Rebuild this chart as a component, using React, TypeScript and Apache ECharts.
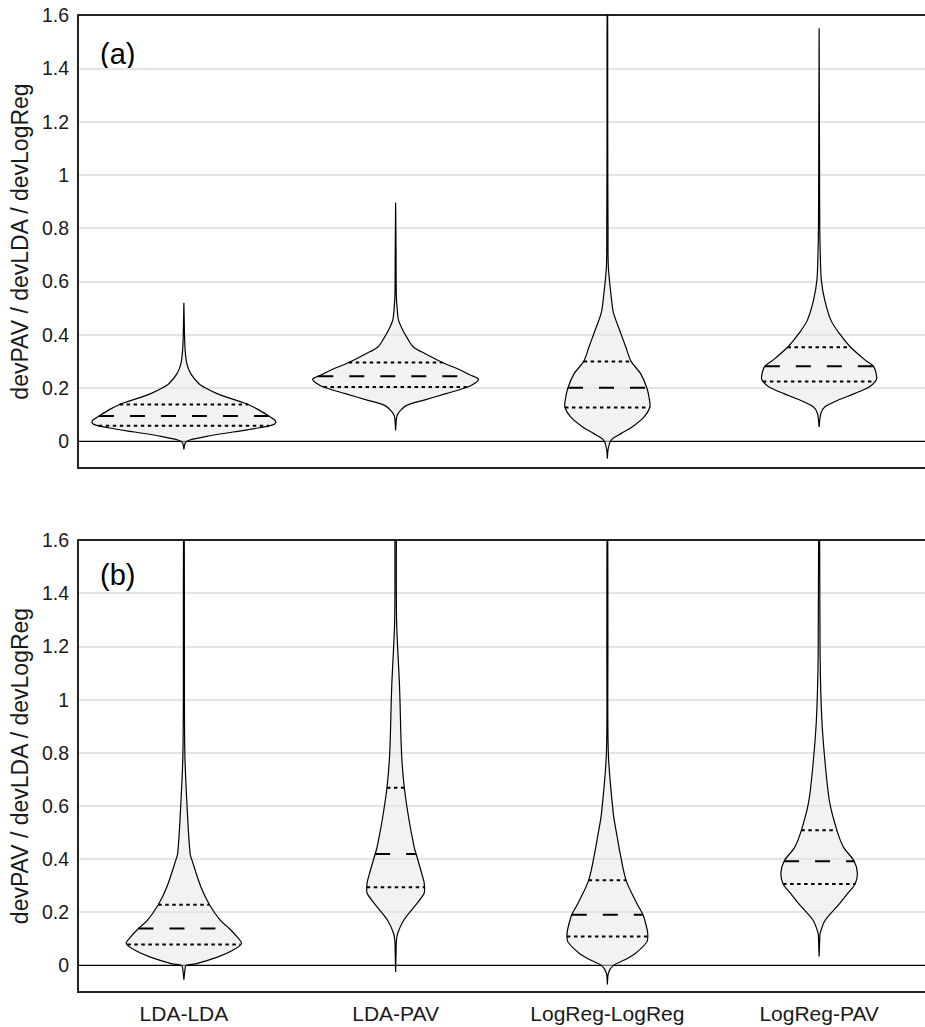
import React, { useEffect, useRef } from "react";
import * as echarts from "echarts";

const categories = ["LDA-LDA", "LDA-PAV", "LogReg-LogReg", "LogReg-PAV"];
const yTitle = "devPAV / devLDA / devLogReg";
const panelLabels = ["(a)", "(b)"];

// Panel (a): violin outlines — value levels and relative half-widths (fraction of half a band)
const aLdaLdaLevels = [-0.03, -0.005, 0.005, 0.02, 0.035, 0.05, 0.062, 0.07, 0.08, 0.095, 0.12, 0.14, 0.148, 0.165, 0.18, 0.2, 0.217, 0.254, 0.292, 0.342, 0.4, 0.52];
const aLdaLdaWidths = [0, 0.014, 0.056, 0.233, 0.466, 0.699, 0.839, 0.867, 0.858, 0.802, 0.699, 0.597, 0.541, 0.41, 0.308, 0.205, 0.14, 0.065, 0.028, 0.012, 0.006, 0];
const aLdaPavLevels = [0.041, 0.09, 0.104, 0.12, 0.135, 0.154, 0.179, 0.204, 0.22, 0.234, 0.25, 0.267, 0.295, 0.329, 0.354, 0.392, 0.417, 0.454, 0.5, 0.555, 0.7, 0.896];
const aLdaPavWidths = [0, 0.009, 0.023, 0.056, 0.103, 0.261, 0.476, 0.681, 0.755, 0.783, 0.699, 0.615, 0.448, 0.28, 0.168, 0.103, 0.068, 0.028, 0.014, 0.006, 0.004, 0];
const aLogLogLevels = [-0.065, -0.03, 0.004, 0.029, 0.054, 0.091, 0.127, 0.154, 0.2, 0.254, 0.3, 0.354, 0.404, 0.48, 0.53, 0.655, 0.8, 1.0, 1.3, 1.7];
const aLogLogWidths = [0, 0.007, 0.034, 0.128, 0.233, 0.345, 0.401, 0.398, 0.373, 0.314, 0.224, 0.174, 0.128, 0.059, 0.04, 0.009, 0.006, 0.004, 0.003, 0.002];
const aLogPavLevels = [0.054, 0.105, 0.129, 0.154, 0.179, 0.204, 0.225, 0.241, 0.282, 0.304, 0.354, 0.404, 0.454, 0.53, 0.605, 0.7, 0.805, 1.0, 1.55];
const aLogPavWidths = [0, 0.016, 0.053, 0.177, 0.333, 0.473, 0.531, 0.544, 0.513, 0.438, 0.296, 0.193, 0.112, 0.053, 0.021, 0.011, 0.006, 0.004, 0];

const aMedians = [0.095, 0.244, 0.201, 0.282];
const aQ1 = [0.059, 0.204, 0.127, 0.225];
const aQ3 = [0.138, 0.296, 0.3, 0.353];

// Panel (b)
const bLdaLdaLevels = [-0.054, -0.02, 0.0, 0.006, 0.031, 0.056, 0.082, 0.107, 0.139, 0.169, 0.228, 0.295, 0.395, 0.42, 0.546, 0.797, 1.2, 1.7];
const bLdaLdaWidths = [0, 0.009, 0.021, 0.112, 0.317, 0.457, 0.544, 0.503, 0.429, 0.345, 0.242, 0.161, 0.077, 0.059, 0.037, 0.009, 0.005, 0.003];
const bLdaPavLevels = [-0.025, 0.05, 0.09, 0.12, 0.169, 0.22, 0.27, 0.294, 0.314, 0.358, 0.42, 0.445, 0.546, 0.668, 0.797, 1.048, 1.3, 1.7];
const bLdaPavWidths = [0, 0.004, 0.007, 0.019, 0.075, 0.175, 0.268, 0.273, 0.268, 0.238, 0.193, 0.175, 0.127, 0.082, 0.056, 0.037, 0.009, 0.005];
const bLogLogLevels = [-0.072, -0.03, 0.0, 0.02, 0.044, 0.088, 0.109, 0.13, 0.169, 0.191, 0.232, 0.32, 0.42, 0.483, 0.571, 0.8, 1.2, 1.7];
const bLogLogWidths = [0, 0.009, 0.056, 0.159, 0.261, 0.373, 0.382, 0.378, 0.354, 0.336, 0.28, 0.177, 0.121, 0.093, 0.056, 0.009, 0.005, 0.003];
const bLogPavLevels = [0.034, 0.1, 0.12, 0.169, 0.232, 0.27, 0.306, 0.348, 0.392, 0.445, 0.508, 0.61, 0.734, 0.922, 1.17, 1.7];
const bLogPavWidths = [0, 0.006, 0.009, 0.056, 0.193, 0.268, 0.34, 0.361, 0.331, 0.23, 0.168, 0.101, 0.063, 0.026, 0.009, 0.004];

const bMedians = [0.139, 0.419, 0.191, 0.392];
const bQ1 = [0.079, 0.294, 0.109, 0.306];
const bQ3 = [0.228, 0.668, 0.32, 0.508];

const FONT = "'Liberation Sans', Arial, Helvetica, sans-serif";
const FRAME = "#222";
const GRIDLINE = "#e4e4e4";

type Violin = { levels: number[]; widths: number[] };

const violinsA: Violin[] = [
  { levels: aLdaLdaLevels, widths: aLdaLdaWidths },
  { levels: aLdaPavLevels, widths: aLdaPavWidths },
  { levels: aLogLogLevels, widths: aLogLogWidths },
  { levels: aLogPavLevels, widths: aLogPavWidths },
];
const violinsB: Violin[] = [
  { levels: bLdaLdaLevels, widths: bLdaLdaWidths },
  { levels: bLdaPavLevels, widths: bLdaPavWidths },
  { levels: bLogLogLevels, widths: bLogLogWidths },
  { levels: bLogPavLevels, widths: bLogPavWidths },
];

function interp(levels: number[], widths: number[], v: number): number {
  for (let k = 0; k < levels.length - 1; k++) {
    if (v >= levels[k] && v <= levels[k + 1]) {
      const t = (v - levels[k]) / (levels[k + 1] - levels[k]);
      return widths[k] + t * (widths[k + 1] - widths[k]);
    }
  }
  return 0;
}

function makeRender(violins: Violin[], med: number[], q1: number[], q3: number[]) {
  return (params: any, api: any) => {
    const i = params.dataIndex;
    const v = violins[i];
    const band = api.size([1, 0])[0];
    const half = band / 2;
    const cx = api.coord([i, 0])[0];
    const right = v.levels.map((lv, k) => [cx + v.widths[k] * half, api.coord([i, lv])[1]]);
    const left = v.levels.map((lv, k) => [cx - v.widths[k] * half, api.coord([i, lv])[1]]).reverse();
    const children: any[] = [];
    if (i === 0) {
      const cs = params.coordSys;
      const y0 = api.coord([0, 0])[1];
      children.push({
        type: "line",
        z2: 0,
        shape: { x1: cs.x, y1: y0, x2: cs.x + cs.width, y2: y0 },
        style: { stroke: "#000", lineWidth: 1.2 },
      });
    }
    children.push({
      type: "polygon",
      z2: 10,
      shape: { points: right.concat(left), smooth: 0.3 },
      style: { fill: "rgba(230,230,230,0.5)", stroke: "#000", lineWidth: 1.2 },
    });
    const seg = (val: number, dash: number[]) => {
      const w = interp(v.levels, v.widths, val) * half;
      const y = api.coord([i, val])[1];
      return {
        type: "line",
        z2: 20,
        shape: { x1: cx - w, y1: y, x2: cx + w, y2: y },
        style: { stroke: "#000", lineWidth: 2, lineDash: dash },
      };
    };
    children.push(seg(q1[i], [3.5, 3.5]));
    children.push(seg(q3[i], [3.5, 3.5]));
    children.push(seg(med[i], [15, 16]));
    return { type: "group", children };
  };
}

function yAxisFor(gridIndex: number) {
  return {
    type: "value",
    gridIndex,
    min: -0.1,
    max: 1.6,
    splitNumber: 8,
    name: yTitle,
    nameLocation: "middle",
    nameGap: 42,
    nameTextStyle: { fontSize: 23, color: "#1a1a1a", fontFamily: FONT },
    axisLine: { show: true, lineStyle: { color: FRAME, width: 2 } },
    axisTick: { show: false },
    axisLabel: {
      fontSize: 19.5,
      color: "#1a1a1a",
      fontFamily: FONT,
      margin: 9,
      formatter: (val: number) => (val < -0.05 ? "" : String(Math.round(val * 10) / 10)),
    },
    splitLine: {
      show: true,
      lineStyle: {
        color: [FRAME, "rgba(0,0,0,0)", GRIDLINE, GRIDLINE, GRIDLINE, GRIDLINE, GRIDLINE, GRIDLINE, GRIDLINE, FRAME],
        width: 1.8,
      },
    },
  };
}

export default function App() {
  const ref = useRef<HTMLDivElement>(null);
  useEffect(() => {
    if (!ref.current) return;
    const chart = echarts.init(ref.current, undefined, { renderer: "svg" });
    const option: any = {
      animation: false,
      backgroundColor: "#fff",
      grid: [
        { left: 77, right: -10, top: 15, height: 453, show: false },
        { left: 77, right: -10, top: 540, height: 452, show: false },
      ],
      xAxis: [
        {
          type: "category",
          gridIndex: 0,
          data: categories,
          axisLine: { show: true, onZero: false, lineStyle: { color: FRAME, width: 2 } },
          axisTick: { show: false },
          axisLabel: { show: false },
          splitLine: { show: false },
        },
        {
          type: "category",
          gridIndex: 1,
          data: categories,
          axisLine: { show: true, onZero: false, lineStyle: { color: FRAME, width: 2 } },
          axisTick: { show: false },
          splitLine: { show: false },
          axisLabel: { fontSize: 21, color: "#1a1a1a", fontFamily: FONT, margin: 11 },
        },
      ],
      yAxis: [yAxisFor(0), yAxisFor(1)],
      graphic: [
        { type: "text", left: 100, top: 39, style: { text: panelLabels[0], fontSize: 29, fill: "#000", fontFamily: FONT } },
        { type: "text", left: 100, top: 560, style: { text: panelLabels[1], fontSize: 29, fill: "#000", fontFamily: FONT } },
      ],
      series: [
        {
          type: "custom",
          xAxisIndex: 0,
          yAxisIndex: 0,
          clip: true,
          renderItem: makeRender(violinsA, aMedians, aQ1, aQ3),
          data: categories.map((_, i) => [i, aMedians[i]]),
          encode: { x: 0, y: 1 },
          silent: true,
        },
        {
          type: "custom",
          xAxisIndex: 1,
          yAxisIndex: 1,
          clip: true,
          renderItem: makeRender(violinsB, bMedians, bQ1, bQ3),
          data: categories.map((_, i) => [i, bMedians[i]]),
          encode: { x: 0, y: 1 },
          silent: true,
        },
      ],
    };
    chart.setOption(option);
    return () => chart.dispose();
  }, []);
  return <div ref={ref} style={{ position: "absolute", left: 0, top: 0, width: 925, height: 1027 }} />;
}
